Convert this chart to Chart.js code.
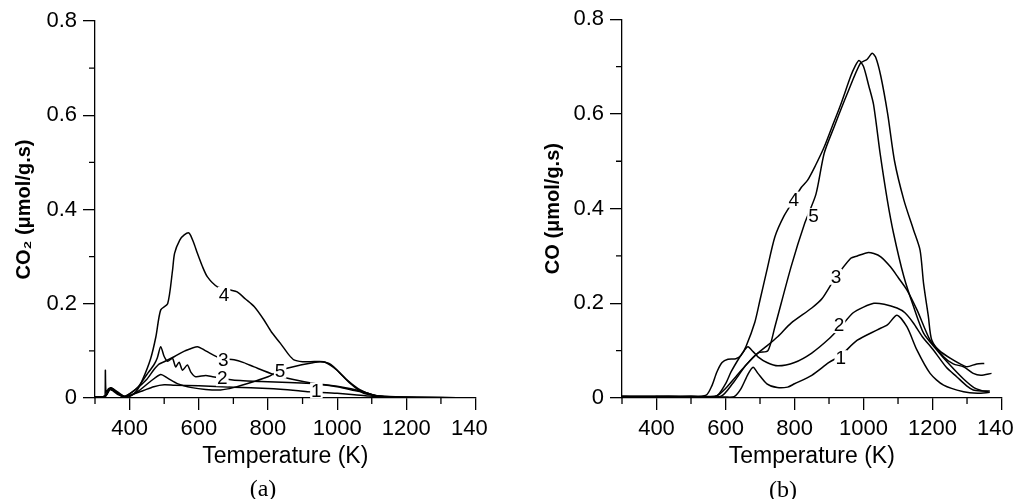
<!DOCTYPE html>
<html>
<head>
<meta charset="utf-8">
<script src="https://cdn.jsdelivr.net/npm/chart.js@4/dist/chart.umd.min.js"></script>
<style>
  html, body { margin: 0; padding: 0; background: #fff; overflow: hidden; }
  body { width: 1020px; height: 499px; position: relative; }
  .panel { position: absolute; top: 0; }
  .cap { position: absolute; font-family: "Liberation Serif", serif; font-size: 24px; color: #000;
         transform: translate(-50%, -50%); line-height: 1; }
</style>
</head>
<body>
<div class="panel" style="left:0px"><canvas id="chartA" width="506" height="499"></canvas></div>
<div class="panel" style="left:510px"><canvas id="chartB" width="522" height="499"></canvas></div>
<div class="cap" style="left:263px; top:488px">(a)</div>
<div class="cap" style="left:783px; top:489px">(b)</div>

<script>
// axis ticks
var xMajor = [400, 600, 800, 1000, 1200, 1400];
var xMinor = [300, 500, 700, 900, 1100, 1300];
var yMajor = [0, 0.2, 0.4, 0.6, 0.8];
var yMinor = [0.1, 0.3, 0.5, 0.7];

// (a) CO2 desorption, temperature (K) and rate (umol/g.s)
var co2T1 = [300, 325, 329, 330, 332, 340, 350, 365, 385, 410, 440, 470, 500, 530, 600, 700, 800, 880, 923, 952, 1000, 1050, 1090, 1150, 1250, 1380];
var co2V1 = [0.002, 0.002, 0.002, 0.059, 0.012, 0.02, 0.016, 0.008, 0.003, 0.008, 0.016, 0.024, 0.028, 0.027, 0.026, 0.023, 0.02, 0.016, 0.013, 0.012, 0.01, 0.007, 0.004, 0.001, 0.0005, 0];
var co2T2 = [300, 330, 345, 380, 420, 450, 470, 480, 490, 500, 510, 524, 533, 543, 553, 567, 577, 591, 620, 640, 683, 720, 780, 860, 930, 1000, 1067, 1110, 1160, 1250, 1380];
var co2V2 = [0.002, 0.004, 0.022, 0.003, 0.02, 0.05, 0.07, 0.085, 0.109, 0.088, 0.078, 0.084, 0.066, 0.076, 0.059, 0.07, 0.055, 0.045, 0.048, 0.045, 0.04, 0.037, 0.035, 0.033, 0.031, 0.025, 0.015, 0.005, 0.002, 0.001, 0];
var co2T3 = [300, 330, 345, 385, 420, 450, 470, 485, 500, 530, 560, 596, 620, 663, 702, 730, 760, 817, 870, 933, 1000, 1050, 1087, 1120, 1200, 1380];
var co2V3 = [0.002, 0.004, 0.02, 0.003, 0.02, 0.04, 0.06, 0.072, 0.077, 0.088, 0.1, 0.109, 0.1, 0.084, 0.081, 0.075, 0.066, 0.05, 0.04, 0.031, 0.024, 0.016, 0.01, 0.004, 0.001, 0];
var co2T4 = [300, 330, 345, 385, 400, 420, 437, 461, 476, 490, 510, 524, 530, 545, 558, 572, 585, 596, 610, 625, 654, 692, 711, 735, 760, 788, 810, 836, 860, 875, 900, 923, 961, 980, 1000, 1038, 1077, 1125, 1200, 1300, 1390];
var co2V4 = [0.002, 0.004, 0.022, 0.003, 0.003, 0.015, 0.038, 0.084, 0.13, 0.187, 0.2, 0.27, 0.307, 0.335, 0.346, 0.35, 0.33, 0.307, 0.28, 0.257, 0.236, 0.229, 0.225, 0.21, 0.194, 0.166, 0.14, 0.116, 0.092, 0.081, 0.077, 0.077, 0.077, 0.07, 0.059, 0.031, 0.01, 0.004, 0.002, 0.001, 0];
var co2T5 = [300, 330, 345, 385, 420, 460, 490, 510, 540, 580, 620, 663, 700, 760, 800, 836, 894, 930, 952, 975, 990, 1029, 1067, 1105, 1150, 1300, 1390];
var co2V5 = [0.002, 0.004, 0.018, 0.003, 0.012, 0.035, 0.05, 0.042, 0.03, 0.022, 0.018, 0.017, 0.022, 0.035, 0.045, 0.059, 0.07, 0.075, 0.077, 0.074, 0.066, 0.038, 0.017, 0.006, 0.002, 0.001, 0];

// (b) CO desorption
var coT1 = [300, 330, 336, 400, 500, 600, 625, 645, 665, 680, 694, 720, 750, 780, 800, 850, 900, 934, 982, 1040, 1070, 1097, 1126, 1155, 1193, 1232, 1290, 1330, 1366];
var coV1 = [0.003, 0.002, -0.006, 0.003, 0.003, 0.002, 0.003, 0.02, 0.05, 0.065, 0.052, 0.03, 0.022, 0.023, 0.03, 0.048, 0.075, 0.09, 0.122, 0.144, 0.155, 0.175, 0.15, 0.101, 0.052, 0.027, 0.013, 0.01, 0.012];
var coT2 = [300, 400, 500, 573, 600, 616, 640, 655, 665, 680, 694, 720, 752, 800, 850, 900, 933, 970, 1000, 1030, 1060, 1097, 1120, 1145, 1170, 1203, 1240, 1270, 1300, 1318, 1340, 1366];
var coV2 = [0.003, 0.003, 0.003, 0.004, 0.03, 0.055, 0.085, 0.101, 0.108, 0.098, 0.087, 0.075, 0.068, 0.075, 0.095, 0.125, 0.15, 0.18, 0.192, 0.2, 0.198, 0.19, 0.18, 0.158, 0.13, 0.101, 0.065, 0.045, 0.025, 0.017, 0.015, 0.015];
var coT3 = [300, 400, 500, 575, 600, 630, 660, 694, 720, 752, 790, 850, 880, 915, 963, 982, 1011, 1030, 1050, 1078, 1100, 1126, 1155, 1193, 1220, 1251, 1280, 1300, 1328, 1350];
var coV3 = [0.003, 0.003, 0.003, 0.005, 0.02, 0.045, 0.07, 0.095, 0.11, 0.13, 0.158, 0.19, 0.21, 0.25, 0.295, 0.3, 0.307, 0.305, 0.298, 0.277, 0.255, 0.228, 0.186, 0.122, 0.1, 0.084, 0.072, 0.066, 0.072, 0.073];
var coT4 = [300, 400, 500, 544, 560, 575, 590, 607, 630, 645, 660, 685, 700, 720, 743, 770, 798, 820, 838, 860, 886, 910, 934, 963, 975, 987, 1000, 1015, 1029, 1048, 1069, 1087, 1117, 1145, 1174, 1213, 1250, 1290, 1320, 1345, 1362];
var coV4 = [0.003, 0.003, 0.003, 0.006, 0.025, 0.055, 0.075, 0.082, 0.083, 0.09, 0.11, 0.16, 0.207, 0.27, 0.34, 0.385, 0.418, 0.445, 0.46, 0.49, 0.53, 0.575, 0.62, 0.68, 0.7, 0.713, 0.7, 0.66, 0.62, 0.517, 0.418, 0.348, 0.256, 0.193, 0.137, 0.101, 0.07, 0.04, 0.022, 0.015, 0.013];
var coT5 = [300, 400, 500, 587, 620, 660, 694, 723, 743, 790, 830, 862, 886, 915, 953, 991, 1010, 1025, 1035, 1050, 1070, 1090, 1117, 1145, 1164, 1174, 1188, 1198, 1232, 1260, 1290, 1318, 1340, 1371];
var coV5 = [0.003, 0.003, 0.003, 0.004, 0.03, 0.07, 0.095, 0.1, 0.15, 0.277, 0.37, 0.43, 0.517, 0.573, 0.643, 0.707, 0.715, 0.728, 0.72, 0.68, 0.6, 0.5, 0.418, 0.355, 0.312, 0.242, 0.172, 0.122, 0.087, 0.072, 0.066, 0.052, 0.048, 0.052];

// curve numbers written on the plot
var co2Labels = [["4", 673, 0.219], ["3", 671, 0.081], ["2", 668, 0.042], ["5", 835, 0.058], ["1", 940, 0.016]];
var coLabels = [["4", 798, 0.419], ["5", 855, 0.384], ["3", 920, 0.256], ["2", 929, 0.154], ["1", 934, 0.084]];

function toPoints(t, v) {
    return t.map(function (x, i) { return { x: x, y: v[i] }; });
}

function lineSet(t, v) {
    return {
        data: toPoints(t, v),
        borderColor: '#000',
        borderWidth: 1.5,
        pointRadius: 0,
        fill: false,
        tension: 0.25
    };
}

// short minor ticks and the curve numbers
var extras = {
    id: 'extras',
    afterDraw: function (chart, args, opts) {
        var ctx = chart.ctx;
        var x = chart.scales.x, y = chart.scales.y;
        ctx.save();
        ctx.strokeStyle = '#000';
        ctx.lineWidth = 1.3;
        ctx.beginPath();
        xMinor.forEach(function (v) {
            var px = x.getPixelForValue(v);
            ctx.moveTo(px, y.bottom);
            ctx.lineTo(px, y.bottom + 6);
        });
        yMinor.forEach(function (v) {
            var py = y.getPixelForValue(v);
            ctx.moveTo(x.left, py);
            ctx.lineTo(x.left - 6, py);
        });
        ctx.stroke();
        ctx.font = '19px "Liberation Sans", Arial, sans-serif';
        ctx.textAlign = 'center';
        ctx.textBaseline = 'middle';
        opts.labels.forEach(function (l) {
            var px = x.getPixelForValue(l[1]);
            var py = y.getPixelForValue(l[2]);
            var w = ctx.measureText(l[0]).width;
            ctx.fillStyle = '#fff';
            ctx.fillRect(px - w / 2 - 1, py - 8, w + 2, 16);
            ctx.fillStyle = '#000';
            ctx.fillText(l[0], px, py + 1);
        });
        ctx.restore();
    }
};

function makeChart(id, series, labels, yTitle, yTitlePad, yWidth, pad) {
    return new Chart(document.getElementById(id), {
        type: 'line',
        data: { datasets: series.map(function (s) { return lineSet(s[0], s[1]); }) },
        plugins: [extras],
        options: {
            responsive: false,
            animation: false,
            events: [],
            layout: { padding: pad },
            plugins: {
                legend: { display: false },
                tooltip: { enabled: false },
                extras: { labels: labels }
            },
            scales: {
                x: {
                    type: 'linear',
                    min: 300,
                    max: 1400,
                    afterBuildTicks: function (s) { s.ticks = xMajor.map(function (v) { return { value: v }; }); },
                    afterFit: function (s) { s.height = 101; },
                    border: { display: true, color: '#000', width: 1.3 },
                    grid: { drawOnChartArea: false, drawTicks: true, tickLength: 12, color: '#000', lineWidth: 1.3 },
                    ticks: {
                        color: '#000',
                        padding: 6,
                        maxRotation: 0,
                        autoSkip: false,
                        font: { family: '"Liberation Sans", Arial, sans-serif', size: 22 },
                        // the last label is cut to "140" in the original figure
                        callback: function (v) { return v === 1400 ? '140\u2007' : String(v); }
                    },
                    title: {
                        display: true,
                        text: 'Temperature (K)',
                        color: '#000',
                        padding: { top: 0, bottom: 29 },
                        font: { family: '"Liberation Sans", Arial, sans-serif', size: 23 }
                    }
                },
                y: {
                    min: 0,
                    max: 0.8,
                    afterBuildTicks: function (s) { s.ticks = yMajor.map(function (v) { return { value: v }; }); },
                    afterFit: function (s) { s.width = yWidth; },
                    border: { display: true, color: '#000', width: 1.3 },
                    grid: { drawOnChartArea: false, drawTicks: true, tickLength: 12, color: '#000', lineWidth: 1.3 },
                    ticks: {
                        color: '#000',
                        padding: 6,
                        font: { family: '"Liberation Sans", Arial, sans-serif', size: 22 },
                        callback: function (v) { return v === 0 ? '0' : v.toFixed(1); }
                    },
                    title: {
                        display: true,
                        text: yTitle,
                        color: '#000',
                        padding: { top: yTitlePad, bottom: 0 },
                        font: { family: '"Liberation Sans", Arial, sans-serif', size: 20, weight: 'bold' }
                    }
                }
            }
        }
    });
}

makeChart('chartA',
    [[co2T1, co2V1], [co2T2, co2V2], [co2T3, co2V3], [co2T4, co2V4], [co2T5, co2V5]],
    co2Labels, 'CO\u2082 (\u03bcmol/g.s)', 12, 95,
    { left: 0, top: 21, right: 27, bottom: 0 });

makeChart('chartB',
    [[coT1, coV1], [coT2, coV2], [coT3, coV3], [coT4, coV4], [coT5, coV5]],
    coLabels, 'CO (\u03bcmol/g.s)', 31, 112,
    { left: 0, top: 19, right: 27, bottom: 0 });
</script>
</body>
</html>
